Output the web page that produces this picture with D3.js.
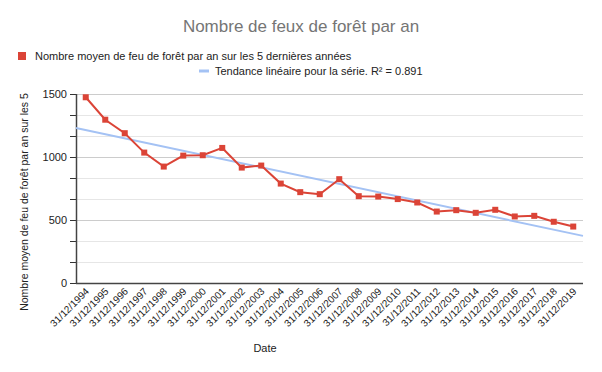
<!DOCTYPE html>
<html>
<head>
<meta charset="utf-8">
<script src="https://cdn.jsdelivr.net/npm/d3@7"></script>
<style>
  body { margin: 0; background: #fff; }
  svg { display: block; font-family: Arial, "Liberation Sans", sans-serif; }
</style>
</head>
<body>
<div id="chart"></div>
<script>
// data
const years = d3.range(1994, 2020).map(y => `31/12/${y}`);
const fires = [1474, 1296, 1189, 1035, 924, 1011, 1014, 1072, 916, 932,
  789, 721, 705, 824, 689, 686, 666, 639, 567, 578, 557, 581, 528, 533, 486, 448];
const yTicks = [0, 500, 1000, 1500];
const title = 'Nombre de feux de forêt par an';
const seriesLabel = 'Nombre moyen de feu de forêt par an sur les 5 dernières années';
const trendLabel = 'Tendance linéaire pour la série. R² = 0.891';

const width = 602, height = 372;
const margin = {top: 94, right: 19, bottom: 89, left: 76};
const red = '#db4437', blue = '#a4c2f4';

const svg = d3.select('#chart').append('svg')
    .attr('width', width)
    .attr('height', height);

const x = d3.scalePoint()
    .domain(years)
    .range([margin.left, width - margin.right])
    .padding(0.5);

const y = d3.scaleLinear()
    .domain([0, 1500])
    .range([height - margin.bottom, margin.top]);

// grid every 1/3 of the 500 step
const gridVals = d3.range(0, 1501, 500 / 3);
svg.append('g')
  .selectAll('line')
  .data(gridVals)
  .enter().append('line')
    .attr('x1', margin.left)
    .attr('x2', width - margin.right)
    .attr('y1', d => Math.round(y(d)) + 0.5)
    .attr('y2', d => Math.round(y(d)) + 0.5)
    .attr('stroke', d => (Math.round(d) % 500 === 0) ? '#cccccc' : '#e6e6e6');

// y axis
const yAxis = svg.append('g')
    .attr('transform', `translate(${margin.left},0)`);
yAxis.selectAll('line.tick')
  .data(gridVals)
  .enter().append('line')
    .attr('class', 'tick')
    .attr('x1', -6).attr('x2', 0)
    .attr('y1', d => Math.round(y(d)) + 0.5)
    .attr('y2', d => Math.round(y(d)) + 0.5)
    .attr('stroke', '#333');
yAxis.append('line')
    .attr('x1', 0.5).attr('x2', 0.5)
    .attr('y1', y(1500)).attr('y2', y(0) + 1)
    .attr('stroke', '#444')
    .attr('stroke-width', 1.5);
yAxis.selectAll('text')
  .data(yTicks)
  .enter().append('text')
    .attr('x', -9)
    .attr('y', d => y(d) + 4)
    .attr('text-anchor', 'end')
    .attr('font-size', 11)
    .attr('fill', '#222')
    .text(d => d);

// x axis
svg.append('line')
    .attr('x1', margin.left).attr('x2', width - margin.right)
    .attr('y1', Math.round(y(0)) + 0.5).attr('y2', Math.round(y(0)) + 0.5)
    .attr('stroke', '#444')
    .attr('stroke-width', 1.5);

svg.append('g')
  .selectAll('text')
  .data(years)
  .enter().append('text')
    .attr('transform', d => `translate(${x(d) + 4},${y(0) + 9}) rotate(-45)`)
    .attr('text-anchor', 'end')
    .attr('font-size', 10)
    .attr('fill', '#222')
    .text(d => d);

// linear trend of the series
const idx = d3.range(fires.length);
const mx = d3.mean(idx), my = d3.mean(fires);
const slope = d3.sum(idx, i => (i - mx) * (fires[i] - my)) / d3.sum(idx, i => (i - mx) ** 2);
const icpt = my - slope * mx;
svg.append('line')
    .attr('x1', margin.left)
    .attr('x2', width - margin.right)
    .attr('y1', y(icpt + slope * -0.5))
    .attr('y2', y(icpt + slope * (fires.length - 0.5)))
    .attr('stroke', blue)
    .attr('stroke-width', 2);

// series
const line = d3.line()
    .x((d, i) => x(years[i]))
    .y(d => y(d));

svg.append('path')
    .datum(fires)
    .attr('d', line)
    .attr('fill', 'none')
    .attr('stroke', red)
    .attr('stroke-width', 2);

svg.append('g')
  .selectAll('rect')
  .data(fires)
  .enter().append('rect')
    .attr('x', (d, i) => x(years[i]) - 3)
    .attr('y', d => y(d) - 3)
    .attr('width', 6)
    .attr('height', 6)
    .attr('fill', red);

// title
svg.append('text')
    .attr('x', 301)
    .attr('y', 32)
    .attr('text-anchor', 'middle')
    .attr('font-size', 17)
    .attr('fill', '#757575')
    .text(title);

// legend
svg.append('rect')
    .attr('x', 18).attr('y', 52)
    .attr('width', 8).attr('height', 8)
    .attr('fill', red);
svg.append('text')
    .attr('x', 35).attr('y', 60)
    .attr('font-size', 11)
    .attr('fill', '#222')
    .text(seriesLabel);
svg.append('line')
    .attr('x1', 199).attr('x2', 209)
    .attr('y1', 71).attr('y2', 71)
    .attr('stroke', blue)
    .attr('stroke-width', 3);
svg.append('text')
    .attr('x', 215).attr('y', 75)
    .attr('font-size', 11)
    .attr('fill', '#222')
    .text(trendLabel);

// axis titles
svg.append('text')
    .attr('transform', `translate(28,202) rotate(-90)`)
    .attr('text-anchor', 'middle')
    .attr('font-size', 10.5)
    .attr('fill', '#222')
    .text('Nombre moyen de feu de forêt par an sur les 5');

svg.append('text')
    .attr('x', 265)
    .attr('y', 352)
    .attr('text-anchor', 'middle')
    .attr('font-size', 11)
    .attr('fill', '#222')
    .text('Date');
</script>
</body>
</html>
